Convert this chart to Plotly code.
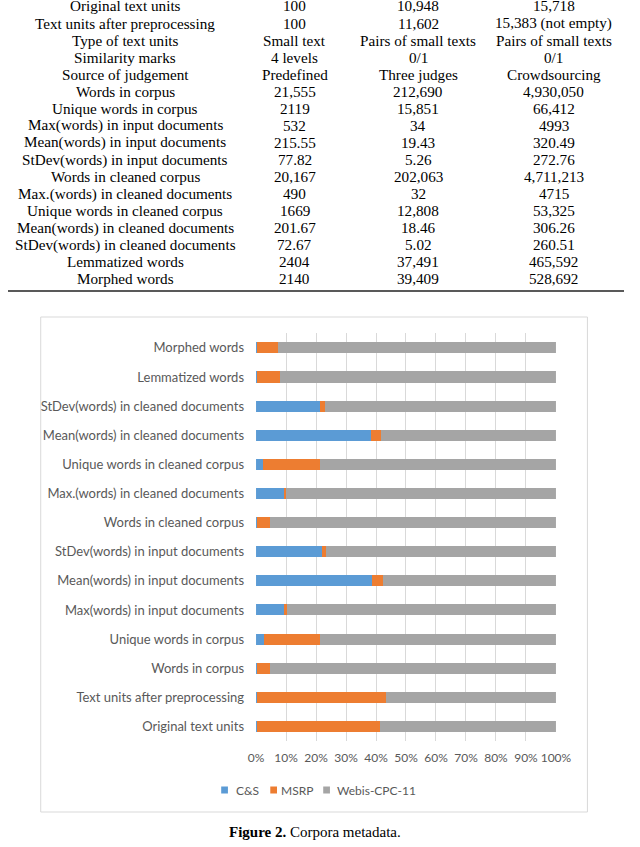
import plotly.graph_objects as go

# ---------------- Data ----------------
table_labels = [
    "Original text units", "Text units after preprocessing", "Type of text units",
    "Similarity marks", "Source of judgement", "Words in corpus", "Unique words in corpus",
    "Max(words) in input documents", "Mean(words) in input documents",
    "StDev(words) in input documents", "Words in cleaned corpus",
    "Max.(words) in cleaned documents", "Unique words in cleaned corpus",
    "Mean(words) in cleaned documents", "StDev(words) in cleaned documents",
    "Lemmatized words", "Morphed words",
]
table_cs = ["100", "100", "Small text", "4 levels", "Predefined", "21,555", "2119", "532",
            "215.55", "77.82", "20,167", "490", "1669", "201.67", "72.67", "2404", "2140"]
table_msrp = ["10,948", "11,602", "Pairs of small texts", "0/1", "Three judges", "212,690",
              "15,851", "34", "19.43", "5.26", "202,063", "32", "12,808", "18.46", "5.02",
              "37,491", "39,409"]
table_webis = ["15,718", "15,383 (not empty)", "Pairs of small texts", "0/1", "Crowdsourcing",
               "4,930,050", "66,412", "4993", "320.49", "272.76", "4,711,213", "4715",
               "53,325", "306.26", "260.51", "465,592", "528,692"]

chart_categories = [
    "Original text units", "Text units after preprocessing", "Words in corpus",
    "Unique words in corpus", "Max(words) in input documents",
    "Mean(words) in input documents", "StDev(words) in input documents",
    "Words in cleaned corpus", "Max.(words) in cleaned documents",
    "Unique words in cleaned corpus", "Mean(words) in cleaned documents",
    "StDev(words) in cleaned documents", "Lemmatized words", "Morphed words",
]
cs_values = [100, 100, 21555, 2119, 532, 215.55, 77.82, 20167, 490, 1669, 201.67, 72.67, 2404, 2140]
msrp_values = [10948, 11602, 212690, 15851, 34, 19.43, 5.26, 202063, 32, 12808, 18.46, 5.02, 37491, 39409]
webis_values = [15718, 15383, 4930050, 66412, 4993, 320.49, 272.76, 4711213, 4715, 53325, 306.26, 260.51, 465592, 528692]

series_names = ["C&S", "MSRP", "Webis-CPC-11"]
series_colors = ["#5B9BD5", "#ED7D31", "#A5A5A5"]

x_tick_vals = [0, 10, 20, 30, 40, 50, 60, 70, 80, 90, 100]
x_tick_text = ["0%", "10%", "20%", "30%", "40%", "50%", "60%", "70%", "80%", "90%", "100%"]

caption_bold = "Figure 2."
caption_text = " Corpora metadata."

# ---------------- Figure ----------------
W, H = 640, 847

def px_x(p):
    return p / W

def px_y(p):
    return 1 - p / H

SANS = "Lato, 'Open Sans', sans-serif"
SERIF = "'Liberation Serif', 'DejaVu Serif', serif"
GREY = "#595959"

fig = go.Figure()
for name, vals, col in zip(series_names, [cs_values, msrp_values, webis_values], series_colors):
    fig.add_trace(go.Bar(
        y=chart_categories, x=vals, name=name, orientation="h",
        marker=dict(color=col, line=dict(width=0)), showlegend=False,
    ))

fig.update_layout(
    width=W, height=H,
    margin=dict(l=0, r=0, t=0, b=0),
    paper_bgcolor="white", plot_bgcolor="white",
    barmode="stack", barnorm="percent", bargap=0.62,
    showlegend=False,
    xaxis=dict(domain=[px_x(257.7), px_x(569.3)], range=[0, 100], tickvals=x_tick_vals,
               ticktext=x_tick_text, tickangle=0, showgrid=True, gridcolor="#D9D9D9",
               gridwidth=1, zeroline=False, showline=False, ticks="", ticklabelstandoff=8,
               tickfont=dict(family=SANS, size=12, color=GREY), fixedrange=True),
    yaxis=dict(domain=[px_y(741.0), px_y(333.3)], type="category", showgrid=False,
               zeroline=False, showline=False, ticks="", ticklabelstandoff=11,
               tickfont=dict(family=SANS, size=13, color=GREY), fixedrange=True),
)

# Chart frame
fig.add_shape(type="rect", xref="paper", yref="paper", x0=px_x(34), x1=px_x(602),
              y0=px_y(812), y1=px_y(317), line=dict(color="#D9D9D9", width=1), layer="below")

# Legend (keys + labels)
legend_y = 790
key_centers = [225, 276, 331]
text_left = [235, 282, 340]
for name, col, kc, tl in zip(series_names, series_colors, key_centers, text_left):
    fig.add_shape(type="rect", xref="paper", yref="paper",
                  x0=px_x(kc - 3.5), x1=px_x(kc + 3.5),
                  y0=px_y(legend_y + 3.5), y1=px_y(legend_y - 3.5),
                  line=dict(width=0), fillcolor=col)
    fig.add_annotation(text=name, x=px_x(tl), y=px_y(legend_y), xref="paper", yref="paper",
                       xanchor="left", yanchor="middle", showarrow=False,
                       font=dict(family=SANS, size=12, color=GREY))

# Table rule
fig.add_shape(type="line", xref="paper", yref="paper", x0=0, x1=1, y0=px_y(291), y1=px_y(291),
              line=dict(color="#222222", width=1.6))

# Table text
col_x = [122, 298, 426, 567]
row0, row_h = 6.0, 17.06
for i in range(len(table_labels)):
    yy = px_y(row0 + i * row_h)
    for cx, txt in zip(col_x, [table_labels[i], table_cs[i], table_msrp[i], table_webis[i]]):
        fig.add_annotation(text=txt, x=px_x(cx), y=yy, xref="paper", yref="paper",
                           xanchor="center", yanchor="middle", showarrow=False,
                           font=dict(family=SERIF, size=15.2, color="black"))

# Caption
fig.add_annotation(text=f"<b>{caption_bold}</b>{caption_text}", x=px_x(319), y=px_y(832),
                   xref="paper", yref="paper", xanchor="center", yanchor="middle",
                   showarrow=False, font=dict(family=SERIF, size=15, color="black"))

fig.write_html("out.html",
               post_script="document.body.style.margin='0';document.body.style.overflow='hidden';",
               config={"displayModeBar": False})
